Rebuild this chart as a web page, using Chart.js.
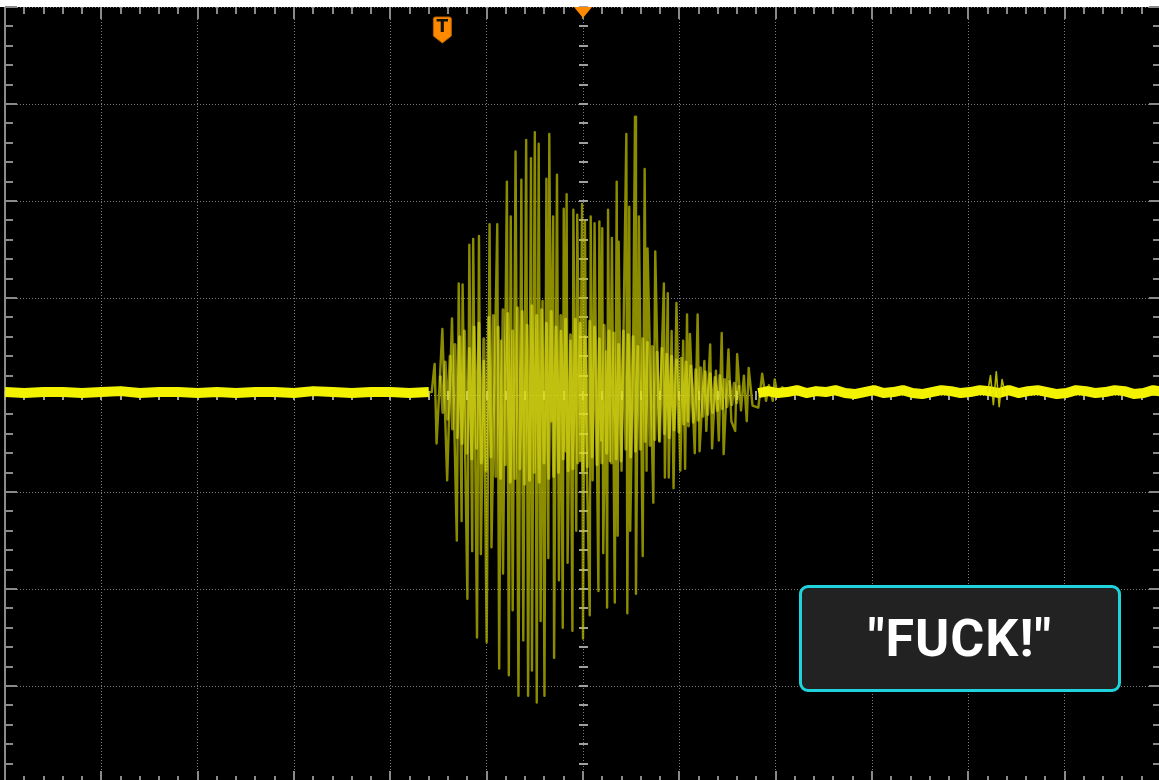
<!DOCTYPE html>
<html>
<head>
<meta charset="utf-8">
<script src="https://cdn.jsdelivr.net/npm/chart.js@4.4.1/dist/chart.umd.min.js"></script>
<style>
  html, body { margin: 0; padding: 0; background: #000; overflow: hidden; }
  #wrap { position: relative; width: 1159px; height: 780px; overflow: hidden; background: #000; }
  #scope { position: absolute; left: 0; top: 0; }
  #caption {
    position: absolute; left: 799px; top: 585px; width: 316px; height: 101px;
    box-sizing: content-box;
    border: 3px solid #1fd3dd; border-radius: 9px; background: #222222;
    color: #ffffff; font-family: Roboto, "Liberation Sans", sans-serif; font-weight: 700;
    font-size: 52px; display: flex; align-items: center; justify-content: center;
    letter-spacing: 1px;
  }
</style>
</head>
<body>
<div id="wrap">
  <canvas id="scope" width="1162" height="784"></canvas>
  <div id="caption"></div>
</div>
<script>
// Screen: 12 horizontal x 8 vertical divisions
const timeRangeMs = [-600, 600];
const voltRangeMv = [-400, 400];
const msPerDiv = 100;
const mvPerDiv = 100;
const minorPerDiv = 5;

// Quiet trace before the word
const preStartMs = -600;
const preStepMs = 20;
const preMv = [3, 2, 3, 3, 2, 3, 4, 2, 3, 3, 2, 3, 2, 3, 3, 2, 4, 3, 2, 3, 3, 2, 3];

// Peaks and troughs of the spoken burst
const burstMs = [-159, -157, -155, -154, -152, -146, -141, -136, -131, -129,
  -126, -125, -120, -118, -115, -114, -110, -108, -106, -103,
  -100, -97, -95, -91, -89, -87, -85, -83, -79, -77,
  -75, -73, -70, -67, -64, -62, -59, -57, -54, -53,
  -50, -48, -46, -44, -42, -40, -38, -36, -35, -33,
  -31, -30, -27, -25, -23, -21, -20, -18, -17, -16,
  -13, -11, -10, -7, -6, -3, -1, 0, 2, 4,
  7, 8, 10, 12, 16, 17, 19, 20, 21, 24,
  25, 26, 28, 30, 33, 35, 36, 37, 40, 45,
  46, 48, 49, 52, 54, 55, 58, 62, 64, 66,
  67, 73, 75, 79, 84, 85, 88, 89, 92, 94,
  97, 101, 104, 106, 108, 109, 111, 116, 119, 121,
  126, 128, 132, 134, 138, 141, 144, 146, 151, 154,
  158, 160, 164, 167, 170, 172, 176, 182, 186, 190,
  193, 197, 199, 202, 207, 211];
const burstMv = [3, 3, 23, 32, -50, 68, -88, 79, -150, 115,
  -130, 114, -210, 155, -161, 161, -250, 164, -164, 35,
  -255, 176, -157, 66, 176, -282, 56, -184, 220, -289,
  184, -222, 251, -310, 222, -253, 263, -310, 244, -284,
  271, -317, 259, -233, 97, -310, 223, -168, 269, -27,
  184, -271, 227, -191, 66, -240, 192, -58, 207, -173,
  56, -243, 191, -140, 186, -68, 197, -251, 179, -78,
  -227, 184, -88, 177, -202, 179, -47, 172, -163, 45,
  -219, 191, -68, 162, -214, 220, -145, 158, -78, 269,
  -225, 194, -140, 45, 287, -205, 184, -166, 233, -78,
  151, -111, 148, -47, 115, -85, 105, -85, 66, -96,
  95, -78, 56, -76, 83, -27, 63, -60, 83, -58,
  35, -37, 52, -55, 25, -47, 64, -61, 47, -27,
  -37, 42, -16, 20, -27, 28, -11, -13, 22, -6,
  10, -6, 16, 0, 8, 1];

// Dense lower-amplitude content inside the burst
const coreStartMs = -148;
const coreStepMs = 2.5;
const coreMv = [20, -18, 34, -25, 40, -35, 52, -44,
  60, -50, 66, -60, 48, -66, 70, -55,
  74, -70, 58, -78, 80, -64, 82, -84,
  70, -86, 88, -72, 84, -90, 66, -86,
  90, -76, 86, -92, 72, -88, 92, -80,
  82, -90, 88, -70, 74, -86, 86, -84,
  70, -80, 82, -66, 78, -78, 62, -76,
  78, -70, 74, -78, 60, -74, 76, -64,
  70, -72, 58, -70, 72, -60, 66, -70,
  64, -66, 52, -68, 66, -56, 62, -64,
  60, -58, 50, -56, 58, -48, 54, -52,
  50, -46, 44, -48, 48, -40, 42, -44,
  40, -36, 36, -38, 38, -30, 34, -32,
  30, -28, 26, -26, 28, -22, 24, -20,
  22, -18, 18, -16, 20, -14, 16, -12,
  14, -10, 12, -8, 10];

// Quiet trace after the word
const tailStartMs = 182;
const tailStepMs = 10;
const tailMv = [2, 4, 2, 3, 5, 2, 4, 3, 5, 2,
  1, 3, 5, 2, 3, 5, 2, 1, 3, 5,
  4, 2, 3, 5, 4, 2, 5, 2, 4, 5,
  3, 1, 2, 5, 4, 2, 3, 5, 4, 1,
  2, 5, 3];

// Small click in the tail
const blipMs = [420, 423, 426, 429, 432, 435, 438];
const blipMv = [3, 20, -10, 24, -12, 16, 3];

const triggerMs = -146;
const captionText = '"FUCK!"';

document.getElementById('caption').textContent = captionText;

const uniformPoints = (start, step, vals) => vals.map((v, i) => ({ x: start + i * step, y: v }));
const pairedPoints = (ts, vs) => ts.map((t, i) => ({ x: t, y: vs[i] }));

const scopeScreen = {
  id: 'scopeScreen',
  beforeDraw(chart) {
    const { ctx, chartArea: a } = chart;
    ctx.save();
    ctx.fillStyle = '#000';
    ctx.fillRect(0, 0, chart.width, chart.height);
    ctx.fillStyle = '#fff';
    ctx.fillRect(0, 0, chart.width, a.top);
    ctx.restore();
  },
  beforeDatasetsDraw(chart) {
    const { ctx, chartArea: a, scales: { x, y } } = chart;
    const x0 = x.getPixelForValue(0);
    const y0 = y.getPixelForValue(0);
    ctx.save();
    // frame ticks along each edge
    ctx.fillStyle = '#8a8a8a';
    const xMinor = msPerDiv / minorPerDiv;
    for (let t = timeRangeMs[0]; t <= timeRangeMs[1]; t += xMinor) {
      const px = Math.round(x.getPixelForValue(t));
      const major = Math.abs(t % msPerDiv) < 1e-6;
      const len = major ? 12 : 7;
      ctx.fillRect(px - 1, a.top, 2, len);
      ctx.fillRect(px - 1, a.bottom - len, 2, len);
    }
    const yMinor = mvPerDiv / minorPerDiv;
    for (let v = voltRangeMv[0]; v <= voltRangeMv[1]; v += yMinor) {
      const py = Math.round(y.getPixelForValue(v));
      const major = Math.abs(v % mvPerDiv) < 1e-6;
      const len = major ? 12 : 8;
      ctx.fillRect(a.left, py - 1, len, 2);
      ctx.fillRect(a.right - len, py - 1, len, 2);
    }
    // left frame edge
    ctx.fillRect(a.left - 1, a.top, 2, a.bottom - a.top);
    // centre axis ticks
    ctx.fillStyle = '#a0a0a0';
    for (let t = timeRangeMs[0]; t <= timeRangeMs[1]; t += xMinor) {
      const px = Math.round(x.getPixelForValue(t));
      ctx.fillRect(px - 1, Math.round(y0) - 4, 2, 9);
    }
    for (let v = voltRangeMv[0]; v <= voltRangeMv[1]; v += yMinor) {
      const py = Math.round(y.getPixelForValue(v));
      ctx.fillRect(Math.round(x0) - 4, py - 1, 9, 2);
    }
    ctx.restore();
  },
  afterDatasetsDraw(chart) {
    const { ctx, chartArea: a, scales: { x } } = chart;
    ctx.save();
    // horizontal position marker
    const cx = x.getPixelForValue(0);
    ctx.fillStyle = '#ff8a00';
    ctx.beginPath();
    ctx.moveTo(cx - 9, a.top);
    ctx.lineTo(cx + 9, a.top);
    ctx.lineTo(cx, a.top + 11);
    ctx.closePath();
    ctx.fill();
    // trigger marker
    const tx = x.getPixelForValue(triggerMs);
    const top = a.top + 10;
    ctx.beginPath();
    ctx.moveTo(tx - 9, top + 2);
    ctx.quadraticCurveTo(tx - 9, top, tx - 7, top);
    ctx.lineTo(tx + 7, top);
    ctx.quadraticCurveTo(tx + 9, top, tx + 9, top + 2);
    ctx.lineTo(tx + 9, top + 19);
    ctx.lineTo(tx, top + 26);
    ctx.lineTo(tx - 9, top + 19);
    ctx.closePath();
    ctx.fillStyle = '#ff8a00';
    ctx.fill();
    ctx.strokeStyle = '#b35f00';
    ctx.lineWidth = 1;
    ctx.stroke();
    ctx.fillStyle = '#111';
    ctx.font = 'bold 17px "DejaVu Sans", sans-serif';
    ctx.textAlign = 'center';
    ctx.textBaseline = 'middle';
    ctx.fillText('T', tx, top + 11);
    ctx.restore();
  }
};

new Chart(document.getElementById('scope'), {
  type: 'line',
  data: {
    datasets: [
      {
        label: 'quiet before',
        data: uniformPoints(preStartMs, preStepMs, preMv),
        borderColor: '#f3f300',
        borderWidth: 10,
        borderJoinStyle: 'round',
        borderCapStyle: 'butt',
        order: 1
      },
      {
        label: 'quiet after',
        data: uniformPoints(tailStartMs, tailStepMs, tailMv),
        borderColor: '#f3f300',
        borderWidth: 10,
        borderJoinStyle: 'round',
        borderCapStyle: 'butt',
        order: 1
      },
      {
        label: 'click',
        data: pairedPoints(blipMs, blipMv),
        borderColor: 'rgba(225,225,0,0.8)',
        borderWidth: 1.6,
        borderJoinStyle: 'round',
        order: 0
      },
      {
        label: 'core',
        data: uniformPoints(coreStartMs, coreStepMs, coreMv),
        borderColor: 'rgba(240,240,30,0.52)',
        borderWidth: 3,
        borderJoinStyle: 'round',
        order: 2
      },
      {
        label: 'burst',
        data: pairedPoints(burstMs, burstMv),
        borderColor: 'rgba(200,200,0,0.7)',
        borderWidth: 2.4,
        borderJoinStyle: 'round',
        order: 3
      }
    ]
  },
  options: {
    responsive: false,
    animation: false,
    events: [],
    layout: { padding: { left: 5, top: 7, right: 1, bottom: 1 } },
    elements: { point: { radius: 0 }, line: { tension: 0 } },
    plugins: { legend: { display: false }, tooltip: { enabled: false } },
    scales: {
      x: {
        type: 'linear',
        min: timeRangeMs[0],
        max: timeRangeMs[1],
        ticks: { display: false, stepSize: msPerDiv },
        grid: { color: '#7c7c7c', lineWidth: 1, drawTicks: false },
        border: { display: false, dash: [1, 2] },
        afterFit(scale) { scale.height = 0; }
      },
      y: {
        type: 'linear',
        min: voltRangeMv[0],
        max: voltRangeMv[1],
        ticks: { display: false, stepSize: mvPerDiv },
        grid: { color: '#7c7c7c', lineWidth: 1, drawTicks: false },
        border: { display: false, dash: [1, 2] },
        afterFit(scale) { scale.width = 0; }
      }
    }
  },
  plugins: [scopeScreen]
});
</script>
</body>
</html>
